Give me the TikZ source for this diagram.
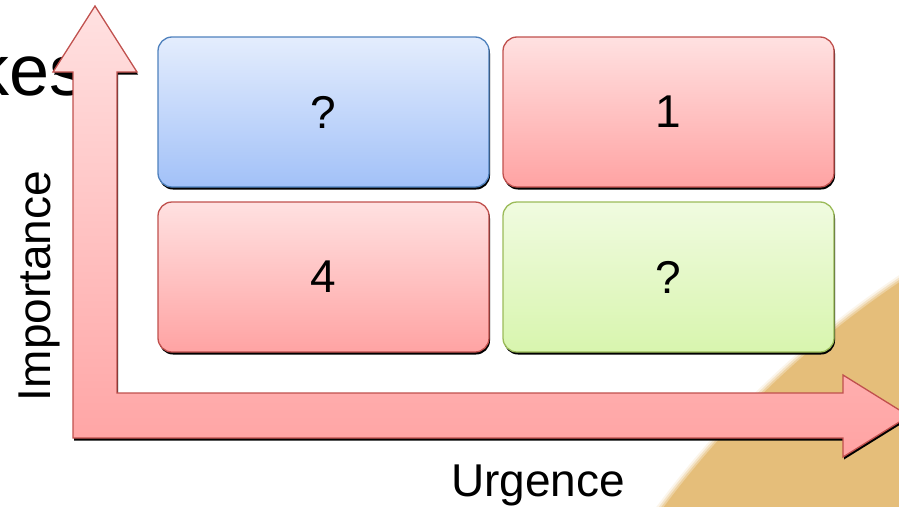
\documentclass[tikz,border=0pt]{standalone}
\usepackage{fontspec}
\setmainfont{Liberation Sans}
\usetikzlibrary{shadows}
\definecolor{bluetop}{HTML}{E4EDFD}
\definecolor{bluebot}{HTML}{A2C1F8}
\definecolor{blueline}{HTML}{4F81BD}
\definecolor{redtop}{HTML}{FFE1E1}
\definecolor{redbot}{HTML}{FFA3A3}
\definecolor{redline}{HTML}{C0504D}
\definecolor{greentop}{HTML}{F0FBE0}
\definecolor{greenbot}{HTML}{D8F5AE}
\definecolor{greenline}{HTML}{9BBB59}
\definecolor{tanfill}{HTML}{E5BE7A}
\begin{document}
\begin{tikzpicture}[x=1pt,y=-1pt,
  quad/.style={rounded corners=14pt, minimum width=331pt, minimum height=150pt,
    line width=1.3pt, inner sep=0pt,
    font=\fontsize{46}{55}\selectfont,
    drop shadow={shadow xshift=1pt, shadow yshift=-2.5pt, fill=black, opacity=1}},
  bluequad/.style={quad, draw=blueline, top color=bluetop, bottom color=bluebot},
  redquad/.style={quad, draw=redline, top color=redtop, bottom color=redbot},
  greenquad/.style={quad, draw=greenline, top color=greentop, bottom color=greenbot},
  axislabel/.style={font=\fontsize{46}{55}\selectfont, inner sep=0pt},
  arrowshape/.style={draw=redline, line width=1.3pt, top color=redtop, bottom color=redbot, line join=miter}
]
\useasboundingbox (0,0) rectangle (899,506);
\clip (0,0) rectangle (899,506);
% background orange disc
\foreach \d/\o in {6/0.15,4/0.3,2/0.5}{
  \fill[tanfill, opacity=\o] (1438,1083) circle (965+\d);
}
\fill[tanfill] (1438,1083) circle (965);
% partial title text
\node[anchor=base west, inner sep=0pt, font=\fontsize{72}{80}\selectfont] (title) at (-27,95) {kes};
% L-shaped arrow: shadow then body
\fill[black, shift={(1,2.5)}] (95,6) -- (137,72) -- (117,72) -- (117,393) -- (843,393) -- (843,375)
  -- (909,416) -- (843,457) -- (843,438) -- (73,438) -- (73,72) -- (53,72) -- cycle;
\path[arrowshape] (95,6) -- (137,72) -- (117,72) -- (117,393) -- (843,393) -- (843,375)
  -- (909,416) -- (843,457) -- (843,438) -- (73,438) -- (73,72) -- (53,72) -- cycle;
% quadrants
\node[bluequad] (q2) at (323.5,112) {?};
\node[redquad] (q1) at (668.5,112) {1};
\node[redquad] (q4) at (323.5,277) {4};
\node[greenquad] (q3) at (668.5,277) {?};
% axis labels
\node[axislabel, anchor=base] (urg) at (538,496) {Urgence};
\node[axislabel, anchor=base, rotate=90] (imp) at (50,286) {Importance};
\end{tikzpicture}
\end{document}
